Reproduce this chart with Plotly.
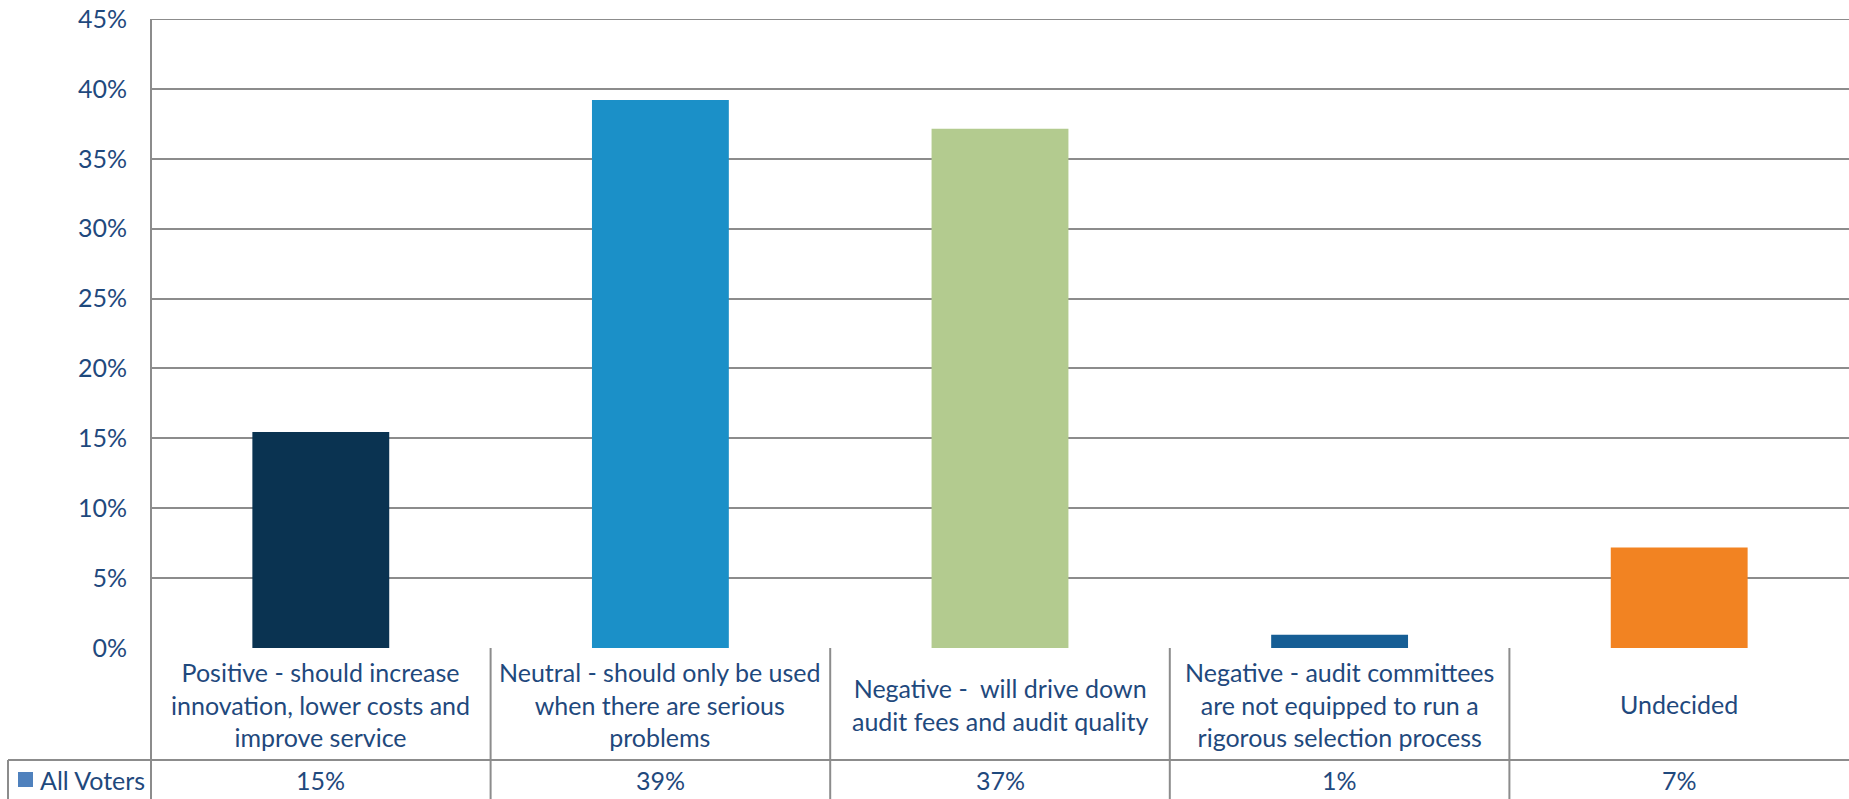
import plotly.graph_objects as go

# Survey responses: share of all voters per answer
categories = [
    "Positive - should increase<br>innovation, lower costs and<br>improve service",
    "Neutral - should only be used<br>when there are serious<br>problems",
    "Negative -  will drive down<br>audit fees and audit quality",
    "Negative - audit committees<br>are not equipped to run a<br>rigorous selection process",
    "Undecided",
]
all_voters = [0.1546, 0.392, 0.3714, 0.0095, 0.0719]
series_name = "All Voters"
bar_colors = ["#0A3351", "#1B90C8", "#B3CB8F", "#165E95", "#F28322"]
y_ticks = [0.0, 0.05, 0.10, 0.15, 0.20, 0.25, 0.30, 0.35, 0.40, 0.45]

W, H = 1849, 799
M_L, M_R, M_T, M_B = 151, 0, 19, 151
PLOT_W = W - M_L - M_R
PLOT_H = H - M_T - M_B

TEXT = "#1F497D"
GRID = "#8C8C8C"
FONT = "Lato, 'Open Sans', sans-serif"
FS = 25


def px_x(px):
    """Pixel column -> paper x."""
    return (px - M_L) / PLOT_W


def px_y(py):
    """Pixel row (from top) -> paper y."""
    return (H - M_B - py) / PLOT_H


# rows of the data table under the plot
ROW1_TOP = H - M_B          # category labels row
ROW2_TOP = 760              # values row
TABLE_LEFT = 8

idx = list(range(len(categories)))

fig = go.Figure(
    go.Bar(
        x=idx,
        y=all_voters,
        marker=dict(color=bar_colors, line=dict(width=0)),
        width=0.403,
        name=series_name,
        hoverinfo="skip",
    )
)

shapes = []
line_style = dict(color=GRID, width=2)

# top gridline at the upper end of the value range
shapes.append(dict(type="line", xref="paper", yref="y",
                   x0=0, x1=1, y0=y_ticks[-1], y1=y_ticks[-1],
                   line=line_style, layer="below"))
# horizontal rule between the label row and the value row
shapes.append(dict(type="line", xref="paper", yref="paper",
                   x0=px_x(TABLE_LEFT), x1=1, y0=px_y(ROW2_TOP), y1=px_y(ROW2_TOP),
                   line=line_style, layer="above"))
# left axis line continued through the table
shapes.append(dict(type="line", xref="paper", yref="paper",
                   x0=0, x1=0, y0=1, y1=px_y(H + 2), line=line_style))
# left border of the series-name cell
shapes.append(dict(type="line", xref="paper", yref="paper",
                   x0=px_x(TABLE_LEFT), x1=px_x(TABLE_LEFT),
                   y0=px_y(ROW2_TOP), y1=px_y(H + 2), line=line_style))
# column separators between categories
for i in idx[:-1]:
    shapes.append(dict(type="line", xref="x", yref="paper",
                       x0=i + 0.5, x1=i + 0.5, y0=0, y1=px_y(H + 2),
                       line=line_style))
# legend key for the series
shapes.append(dict(type="rect", xref="paper", yref="paper",
                   x0=px_x(18), x1=px_x(33), y0=px_y(772), y1=px_y(787),
                   fillcolor="#4F81BD", line=dict(width=0)))

annotations = []
label_mid = px_y((ROW1_TOP + ROW2_TOP) / 2)
value_mid = px_y((ROW2_TOP + H) / 2)
for i, (cat, v) in enumerate(zip(categories, all_voters)):
    annotations.append(dict(x=i, y=label_mid, xref="x", yref="paper",
                            text=cat, showarrow=False, align="center",
                            xanchor="center", yanchor="middle",
                            font=dict(family=FONT, size=FS, color=TEXT)))
    annotations.append(dict(x=i, y=value_mid, xref="x", yref="paper",
                            text=f"{round(v * 100)}%", showarrow=False,
                            xanchor="center", yanchor="middle",
                            font=dict(family=FONT, size=FS, color=TEXT)))
annotations.append(dict(x=px_x(38), y=value_mid, xref="paper", yref="paper",
                        text=series_name, showarrow=False,
                        xanchor="left", yanchor="middle",
                        font=dict(family=FONT, size=FS, color=TEXT)))

fig.update_layout(
    width=W, height=H,
    margin=dict(l=M_L, r=M_R, t=M_T, b=M_B, pad=0),
    paper_bgcolor="white", plot_bgcolor="white",
    showlegend=False,
    shapes=shapes,
    annotations=annotations,
    font=dict(family=FONT, size=FS, color=TEXT),
    xaxis=dict(range=[-0.5, len(categories) - 0.5], showticklabels=False,
               showgrid=False, zeroline=False, showline=False, ticks=""),
    yaxis=dict(range=[0, 0.45], tickvals=y_ticks, tickformat=".0%",
               showgrid=True, gridcolor=GRID, gridwidth=2,
               zeroline=False, showline=False, ticks="",
               ticklabelstandoff=23,
               tickfont=dict(family=FONT, size=FS, color=TEXT)),
)

fig.write_html("out.html")
